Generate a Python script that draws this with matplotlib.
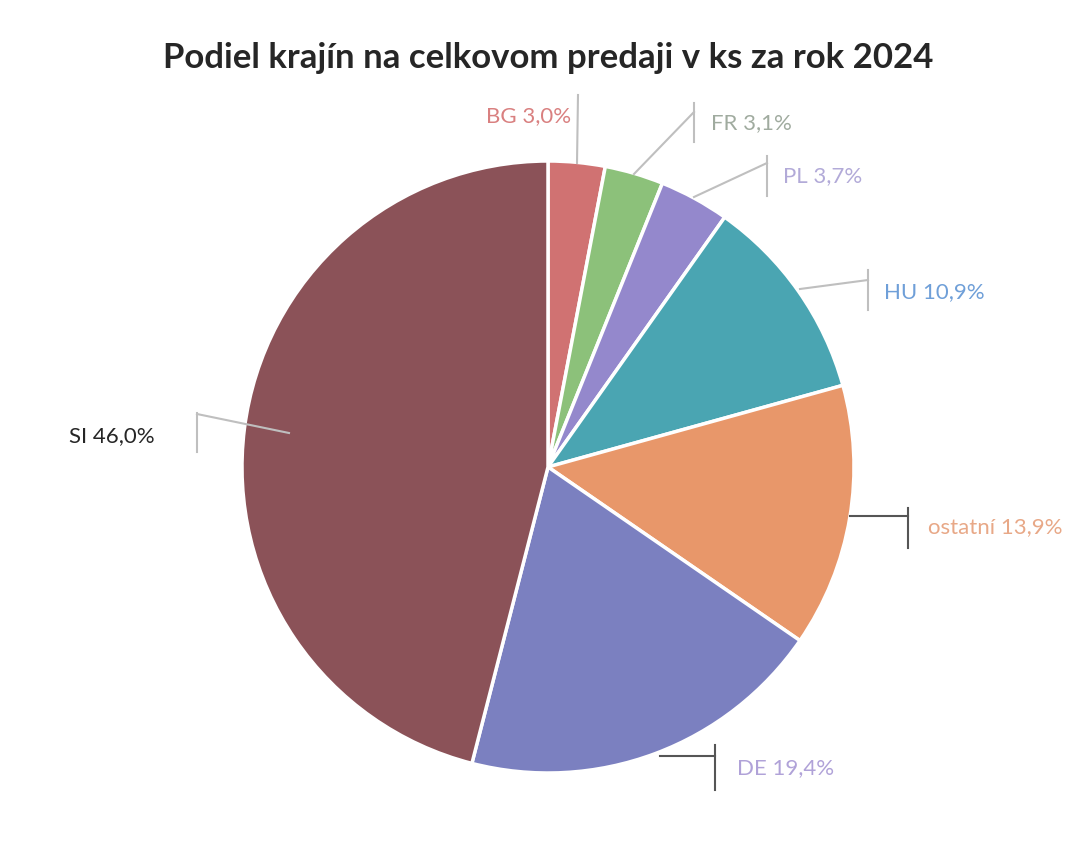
import numpy as np
import matplotlib.pyplot as plt

plt.rcParams['font.family'] = ['Lato', 'DejaVu Sans']

# data
krajiny = ['BG', 'FR', 'PL', 'HU', 'ostatní', 'DE', 'SI']
podiely = [3.0, 3.1, 3.7, 10.9, 13.9, 19.4, 46.0]
farby = ['#d07272', '#8cc17a', '#9488cc', '#4aa5b2', '#e8976a', '#7b80c0', '#8b5258']
farby_textu = ['#d98080', '#a0ab9f', '#b2aad8', '#6f9fd8', '#e8a887', '#b0a2d8', '#262626']

W, H = 1079, 848
fig = plt.figure(figsize=(W / 100, H / 100), dpi=100)
ax = fig.add_axes([0, 0, 1, 1])
ax.set_xlim(0, W)
ax.set_ylim(0, H)
ax.set_aspect('equal')
ax.axis('off')

cx, cy, r = 548, H - 467, 306
wedges, _ = ax.pie(podiely, colors=farby, startangle=90, counterclock=False,
                   center=(cx, cy), radius=r, frame=True,
                   wedgeprops=dict(edgecolor='white', linewidth=2.5))
ax.set_xlim(0, W)
ax.set_ylim(0, H)
ax.axis('off')

# leader lines (pixel coords from top): start, elbow, bar top, bar bottom, label pos, ha
vodiace = {
    'BG': [(577, 163), (578, 95), (578, 95), (578, 95), (571, 116), 'right'],
    'FR': [(634, 174), (694, 112), (694, 103), (694, 142), (711, 123), 'left'],
    'PL': [(694, 197), (767, 163), (767, 156), (767, 196), (783, 176), 'left'],
    'HU': [(800, 289), (868, 280), (868, 270), (868, 310), (884, 292), 'left'],
    'ostatní': [(850, 516), (908, 516), (908, 508), (908, 548), (928, 527), 'left'],
    'DE': [(660, 756), (715, 756), (715, 745), (715, 790), (737, 768), 'left'],
    'SI': [(289, 433), (197, 414), (197, 413), (197, 452), (155, 436), 'right'],
}
tmave = {'ostatní', 'DE'}

for k, p, ft in zip(krajiny, podiely, farby_textu):
    a, b, t, d, lab, ha = vodiace[k]
    lc = '#555555' if k in tmave else '#bfbfbf'
    ax.plot([a[0], b[0]], [H - a[1], H - b[1]], color=lc, lw=1.5)
    ax.plot([t[0], d[0]], [H - t[1], H - d[1]], color=lc, lw=1.5)
    ax.text(lab[0], H - lab[1], f'{k} {p:.1f}%'.replace('.', ','),
            color=ft, fontsize=16, ha=ha, va='center')

ax.text(548, H - 58, 'Podiel krajín na celkovom predaji v ks za rok 2024',
        fontsize=25, fontweight='bold', color='#262626', ha='center', va='center')

fig.savefig('out.png', dpi=100, facecolor='white')
